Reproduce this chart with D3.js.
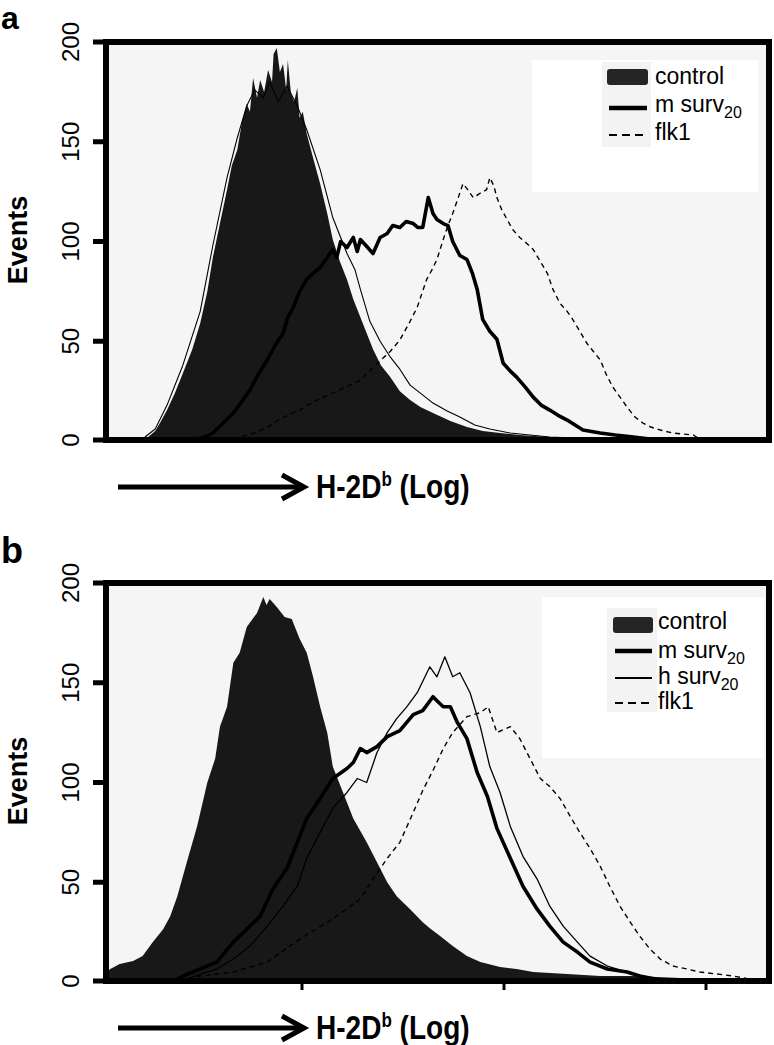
<!DOCTYPE html>
<html><head><meta charset="utf-8">
<script src="https://cdn.jsdelivr.net/npm/d3@7"></script>
<style>
body{margin:0;background:#fff}
svg{display:block}
text{font-family:"Liberation Sans",Arial,Helvetica,sans-serif;fill:#000}
</style>
</head><body>
<svg id="c" width="774" height="1045"></svg>
<script>
// ---- data: [channel (1024 ch = 4 log decades), events] ----
const yTicks = [0, 50, 100, 150, 200];
const xTicksB = [256, 512, 768];

const aControl = [[8,0.5],[13,1],[51,1],[61,2],[70,5],[76,9],[85,15.5],[95,24],[105,34],[117,46],[127,59],[136,75],[143,92],[152,109],[161,126],[167,138],[174,146],[180,160],[186,169],[190,165],[194,182],[199,172],[203,181],[208,175],[213,186],[218,180],[220,194],[224,197],[228,185],[232,189],[236,176],[238,191],[242,174],[246,170],[250,177],[253,162],[257,165],[262,154],[270,142],[279,129],[288,114],[295,101],[304,90],[313,81],[321,71],[330,62],[338,54],[346,46],[356,38],[368,32],[380,25],[393,20.5],[406,17],[422,14],[444,10],[465,7],[485,5],[507,4],[532,3],[570,2],[608,1.5],[659,1],[710,0.5],[760,0],[843,0]];
const aOverlay = [[57,2],[70,6],[85,18],[105,38],[127,65],[143,98],[161,132],[174,152],[186,168],[196,176],[207,172],[215,180],[226,170],[237,178],[250,168],[262,156],[279,136],[295,112],[313,94],[323,86],[330,76],[342,60],[355,50],[368,42],[380,36],[393,28],[406,24],[422,19],[440,15],[456,12],[475,8],[494,6],[520,4],[570,2],[634,1],[697,0]];
const aMSurv = [[114,0],[133,2],[143,4],[156,9],[169,14],[180,20],[190,25.5],[200,33],[212,40.6],[222,48],[232,54],[238,62],[245,67],[253,75],[262,81],[270,84],[279,87],[288,92],[295,96],[300,92],[305,100],[313,97],[321,102],[326,95],[330,101],[337,98],[346,94],[355,102],[364,104],[371,108],[380,107],[388,110],[397,109],[403,107],[409,107],[416,122],[422,114],[427,111],[435,109],[441,108],[447,100],[456,93],[465,91],[472,84],[478,76],[485,61],[494,55],[503,51],[511,39],[520,35],[528,32],[539,27],[549,22],[559,18],[570,15.5],[580,13],[592,10.5],[602,8],[612,5.5],[634,4],[653,3],[676,2],[697,1],[722,0]];
const aFlk1 = [[158,0],[177,2],[196,4],[212,7],[228,11],[253,15.5],[272,20],[295,24],[311,27],[330,30.5],[349,38],[368,45],[380,50.6],[393,60],[402,67],[408,74],[414,81],[421,86],[427,91],[435,101],[441,108],[447,114],[454,122],[460,129],[466,126],[473,122],[481,124],[490,126],[494,132],[499,128],[503,122],[509,116],[516,111],[523,106],[532,102],[541,99],[549,96],[558,90],[567,84],[574,76],[583,69],[592,65],[599,61],[608,55],[617,49],[625,45],[634,40.6],[642,33],[650,27],[659,22],[668,17],[678,12],[688,9],[698,7],[710,5.5],[726,4],[739,3.5],[752,3],[760,1],[773,0]];

const bControl = [[8,5],[13,6.5],[25,9],[42,10.5],[54,13],[67,20],[80,26.5],[89,33],[98,43],[110,60],[123,78],[136,100],[146,112],[152,128],[161,138],[169,160],[177,165],[186,178],[199,185],[207,193],[211,189],[215,192],[224,188],[234,183],[243,182],[253,172],[262,165],[270,153],[279,138],[288,125],[295,108],[308,95],[321,82],[338,70],[351,60],[364,50],[376,43],[393,36.5],[409,30],[418,27],[431,23],[447,18],[465,13],[482,10],[507,7.5],[528,6.5],[549,5],[592,4],[634,3],[676,3],[735,2],[843,1]];
const bMSurv = [[90,0],[105,3],[127,6.5],[148,10],[169,20],[186,26.5],[203,33],[219,46.6],[237,57],[250,70],[262,82],[279,92],[295,102],[313,107],[321,110],[330,117],[338,115],[351,118],[364,123],[380,126],[397,134],[409,136],[422,143],[427,141],[435,138],[444,138],[453,130],[465,122],[478,105],[491,93],[503,77],[520,62],[536,48],[554,36.5],[570,28],[587,20],[605,15],[621,10],[643,6.5],[668,5],[684,3],[710,1],[735,0]];
const bHSurv = [[101,0],[127,4],[148,6.5],[169,11.5],[190,18],[212,28],[232,38],[250,48],[262,62],[279,75],[295,87],[313,95],[326,102],[338,100],[351,115],[364,125],[376,132],[389,138],[402,145],[418,158],[427,153],[437,163],[447,153],[456,155],[469,145],[482,128],[494,108],[507,95],[520,78],[536,63],[554,51.6],[570,38],[587,28],[605,20],[621,13],[643,8],[668,5],[688,3],[722,0]];
const bFlk1 = [[89,0],[127,3],[169,5],[212,10],[253,21.5],[295,31.6],[330,41.6],[346,51.6],[364,62],[380,70],[397,85],[409,96],[422,106],[435,117],[447,125],[465,133],[482,135],[492,138],[503,125],[520,128],[532,122],[545,112],[558,102],[570,98],[583,92],[596,83],[608,75],[621,67],[634,58],[646,48],[659,38],[672,30],[684,23],[697,16.5],[710,11.5],[726,8],[744,6.5],[760,5],[782,4],[802,3],[830,1],[843,0]];

const legendA = [
  {label:"control", sub:"", kind:"fill"},
  {label:"m surv", sub:"20", kind:"thick"},
  {label:"flk1", sub:"", kind:"dash"}
];
const legendB = [
  {label:"control", sub:"", kind:"fill"},
  {label:"m surv", sub:"20", kind:"thick"},
  {label:"h surv", sub:"20", kind:"thin"},
  {label:"flk1", sub:"", kind:"dash"}
];

// ---- drawing ----
const svg = d3.select("#c");
const x = d3.scaleLinear().domain([0, 1024]).range([100, 908]);
const styles = {
  thick: {w: 3.6, dash: null},
  thin: {w: 1.3, dash: null},
  dash: {w: 1.4, dash: "5,4"},
  overlay: {w: 1.1, dash: null}
};

function drawPanel(cfg) {
  const dy = cfg.dy;
  const L = 106, R = 769, T = 42 + dy, B = 440 + dy;
  const y = d3.scaleLinear().domain([0, 200]).range([441 + dy, 42 + dy]);
  const g = svg.append("g");
  const clipId = "clip" + cfg.name;
  svg.append("defs").append("clipPath").attr("id", clipId)
    .append("rect").attr("x", L).attr("y", T).attr("width", R - L).attr("height", B - T);

  g.append("rect").attr("x", L).attr("y", T).attr("width", R - L).attr("height", B - T).attr("fill", "#f5f5f5");
  const lb = cfg.legendBox;
  g.append("rect").attr("x", lb[0]).attr("y", lb[1]).attr("width", lb[2]).attr("height", lb[3]).attr("fill", "#fff");
  const lc = cfg.legendCol;
  g.append("rect").attr("x", lc[0]).attr("y", lc[1]).attr("width", lc[2]).attr("height", lc[3]).attr("fill", "#f3f3f3");

  const plot = g.append("g").attr("clip-path", `url(#${clipId})`);
  const area = d3.area().x(d => x(d[0])).y0(y(0)).y1(d => y(d[1])).curve(d3.curveLinear);
  const line = d3.line().x(d => x(d[0])).y(d => y(d[1])).curve(d3.curveLinear);

  plot.append("path").datum(cfg.control).attr("d", area).attr("fill", "#181818");
  cfg.lines.forEach(s => {
    const st = styles[s.kind];
    plot.append("path").datum(s.data).attr("d", line)
      .attr("fill", "none").attr("stroke", "#000").attr("stroke-width", st.w)
      .attr("stroke-dasharray", st.dash).attr("stroke-linejoin", "round");
  });

  cfg.legend.forEach((e, i) => {
    const ry = cfg.legendRows[i];
    const sx0 = cfg.swatchX[0], sx1 = cfg.swatchX[1];
    if (e.kind === "fill") {
      g.append("rect").attr("x", sx0 - 2).attr("y", ry.sw - 8).attr("width", sx1 - sx0 + 3).attr("height", 16)
        .attr("rx", 3).attr("fill", "#252525");
    } else {
      g.append("line").attr("x1", sx0).attr("x2", sx1).attr("y1", ry.sw).attr("y2", ry.sw)
        .attr("stroke", "#000").attr("stroke-width", e.kind === "thick" ? 4.5 : (e.kind === "thin" ? 2 : 2.2))
        .attr("stroke-dasharray", e.kind === "dash" ? "8,5" : null);
    }
    const t = g.append("text").attr("x", cfg.textX).attr("y", ry.base).attr("font-size", 23);
    t.append("tspan").text(e.label);
    if (e.sub) t.append("tspan").attr("font-size", 16).attr("dy", 6).text(e.sub);
  });

  g.append("rect").attr("x", L).attr("y", T).attr("width", R - L).attr("height", B - T)
    .attr("fill", "none").attr("stroke", "#000").attr("stroke-width", 6);

  yTicks.forEach(v => {
    const yy = Math.min(y(v), B);
    g.append("line").attr("x1", 93).attr("x2", L).attr("y1", yy).attr("y2", yy)
      .attr("stroke", "#000").attr("stroke-width", 5);
    g.append("text").attr("transform", `translate(79,${yy}) rotate(-90)`)
      .attr("text-anchor", "middle").attr("font-size", 24).text(v);
  });

  if (cfg.xTicks) {
    cfg.xTicks.forEach(v => {
      g.append("line").attr("x1", x(v)).attr("x2", x(v)).attr("y1", B + 2).attr("y2", B + 9)
        .attr("stroke", "#000").attr("stroke-width", 3);
    });
  }

  g.append("text").attr("transform", `translate(27,${240 + dy}) rotate(-90)`)
    .attr("text-anchor", "middle").attr("font-size", 27).attr("font-weight", "bold").text("Events");

  g.append("line").attr("x1", 118).attr("x2", 300).attr("y1", 487 + dy).attr("y2", 487 + dy)
    .attr("stroke", "#000").attr("stroke-width", 5);
  g.append("polyline").attr("points", `282,${475 + dy} 304,${487 + dy} 282,${499 + dy}`)
    .attr("fill", "none").attr("stroke", "#000").attr("stroke-width", 5);
  const xt = g.append("text").attr("transform", `translate(316,${498 + dy}) scale(0.85,1)`)
    .attr("font-size", 33).attr("font-weight", "bold");
  xt.append("tspan").text("H-2D");
  xt.append("tspan").attr("font-size", 20).attr("dy", -12).text("b");
  xt.append("tspan").attr("dy", 12).text(" (Log)");

  g.append("text").attr("x", 1).attr("y", cfg.letterY).attr("font-size", cfg.letterSize)
    .attr("font-weight", "bold").text(cfg.name);
}

drawPanel({
  name: "a", dy: 0, control: aControl,
  lines: [{data: aOverlay, kind: "overlay"}, {data: aFlk1, kind: "dash"}, {data: aMSurv, kind: "thick"}],
  legend: legendA,
  legendBox: [532, 60, 226, 132], legendCol: [602, 62, 49, 85],
  swatchX: [609, 647], textX: 655,
  legendRows: [{sw: 77, base: 84}, {sw: 108, base: 112}, {sw: 135, base: 140}],
  xTicks: null, letterY: 29, letterSize: 32
});

drawPanel({
  name: "b", dy: 541, control: bControl,
  lines: [{data: bFlk1, kind: "dash"}, {data: bHSurv, kind: "thin"}, {data: bMSurv, kind: "thick"}],
  legend: legendB,
  legendBox: [542, 597, 222, 161], legendCol: [607, 608, 50, 104],
  swatchX: [615, 652], textX: 658,
  legendRows: [{sw: 625, base: 629}, {sw: 651, base: 658}, {sw: 678, base: 684}, {sw: 703, base: 709}],
  xTicks: xTicksB, letterY: 563, letterSize: 36
});
</script>
</body></html>
